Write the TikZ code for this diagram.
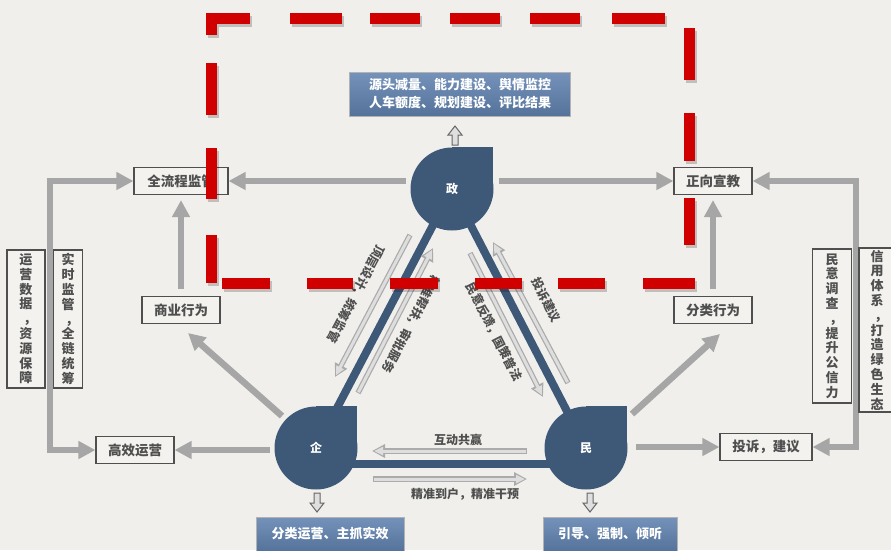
\documentclass[tikz,border=0pt]{standalone}
\usepackage{fontspec}
\setmainfont{Noto Sans CJK SC}
\usetikzlibrary{arrows.meta,calc}
\definecolor{bg}{HTML}{F0EFEB}
\definecolor{navy}{HTML}{3E5878}
\definecolor{blkc}{HTML}{A6A6A6}
\definecolor{labc}{HTML}{4F4F4F}
\definecolor{boxbg}{HTML}{F3F2EF}
\definecolor{thinoc}{HTML}{ABABAB}
\definecolor{thinic}{HTML}{DEDEDE}
\definecolor{redc}{HTML}{D10000}
\definecolor{bluetop}{HTML}{7593BA}
\definecolor{bluebot}{HTML}{55739A}
\pgfdeclarelayer{bgl}
\pgfdeclarelayer{back}
\pgfsetlayers{bgl,back,main}
\newcommand\thinarr[2]{\draw[thinout] (#1) -- (#2); \draw[thinin] (#1) -- (#2);}
\newcommand\hollowdown[2]{\draw[hollow] (#1-3,#2) -- (#1+3,#2) -- (#1+3,#2+10) -- (#1+7,#2+10) -- (#1,#2+19) -- (#1-7,#2+10) -- (#1-3,#2+10) -- cycle;}
\newcommand\hollowup[2]{\draw[hollow] (#1-3,#2) -- (#1+3,#2) -- (#1+3,#2-10) -- (#1+7,#2-10) -- (#1,#2-19) -- (#1-7,#2-10) -- (#1-3,#2-10) -- cycle;}
\newcommand\redframe[1]{%
  \draw[#1] (211,35) -- (211,18) -- (250,18);
  \draw[#1] (290,18) -- (342,18);
  \draw[#1] (370,18) -- (420,18);
  \draw[#1] (450,18) -- (500,18);
  \draw[#1] (530,18) -- (580,18);
  \draw[#1] (612,18) -- (665,18);
  \draw[#1] (689,28) -- (689,80);
  \draw[#1] (689,113) -- (689,161);
  \draw[#1] (689,198) -- (689,245);
  \draw[#1] (643,283) -- (695,283);
  \draw[#1] (558,283) -- (605,283);
  \draw[#1] (475,283) -- (522,283);
  \draw[#1] (390,283) -- (438,283);
  \draw[#1] (307,283) -- (353,283);
  \draw[#1] (222,283) -- (270,283);
  \draw[#1] (211,283) -- (211,235);
  \draw[#1] (211,199) -- (211,148);
  \draw[#1] (211,115) -- (211,63);
}
\begin{document}
\begin{tikzpicture}[x=1pt,y=-1pt,
  lbox/.style={draw=labc, line width=1.1pt, fill=boxbg, text=labc, font=\fontsize{13.5}{15}\selectfont\bfseries, minimum height=27pt, inner sep=0pt},
  vbox/.style={draw=labc, line width=1.1pt, fill=boxbg, text=labc, font=\fontsize{13}{14.8}\selectfont\bfseries, align=center, inner sep=0pt},
  hub/.style={circle, fill=navy, minimum size=83pt, inner sep=0pt, text=white, font=\fontsize{12}{12}\selectfont\bfseries},
  tri/.style={line width=8pt, navy},
  blk/.style={line width=6.5pt, blkc, -{Triangle[length=17pt,width=17pt]}},
  blk2/.style={line width=6.5pt, blkc, {Triangle[length=17pt,width=17pt]}-{Triangle[length=17pt,width=17pt]}},
  thinout/.style={line width=5.5pt, thinoc, -{Triangle[length=13pt,width=13pt]}},
  thinin/.style={line width=3pt, thinic, shorten <=1pt, shorten >=2pt, -{Triangle[length=9pt,width=8pt]}},
  rl/.style={text=labc, font=\fontsize{12}{13}\selectfont\bfseries, inner sep=0pt},
  bluebox/.style={draw=gray!60, line width=1pt, top color=bluetop, bottom color=bluebot, text=white, font=\fontsize{13}{18}\selectfont\bfseries, align=center, inner sep=0pt},
  hollow/.style={draw=gray!80!black, line width=1pt, fill=gray!25},
  redl/.style={line width=11pt, redc, line join=miter},
  reds/.style={line width=11pt, black, opacity=0.2, line join=miter, transform canvas={xshift=2pt,yshift=-3pt}}
]
\begin{pgfonlayer}{bgl}
\fill[bg] (0,0) rectangle (891,550);
\end{pgfonlayer}
\useasboundingbox (0,0) rectangle (891,550);

% hubs
\fill[navy] (452,189) rectangle ++(41,-42);
\node[hub] (zheng) at (452,189) {政};
\fill[navy] (316,448) rectangle ++(41,-42);
\node[hub] (qi) at (316,448) {企};
\fill[navy] (586,448) rectangle ++(41,-42);
\node[hub] (min) at (586,448) {民};

% triangle
\begin{pgfonlayer}{back}
\draw[tri] (zheng.center) -- (qi.center);
\draw[tri] (zheng.center) -- (min.center);
\coordinate (qb) at (340,464);
\coordinate (mb) at (560,464);
\draw[tri] (qb) -- (mb);
\end{pgfonlayer}

% label boxes
\node[lbox, minimum width=94pt] (qlc) at (181,181) {全流程监管};
\node[lbox, minimum width=78pt] (syxw) at (181,310) {商业行为};
\node[lbox, minimum width=78pt] (gxyy) at (135,450) {高效运营};
\node[lbox, minimum width=78pt] (zxxj) at (713,181) {正向宣教};
\node[lbox, minimum width=78pt] (flxw) at (713,310) {分类行为};
\node[lbox, minimum width=92pt] (tsjy) at (766,447) {投诉，建议};

% block arrows
\coordinate (g1s) at (406,181);
\draw[blk] (g1s) -- (qlc.east);
\coordinate (g2s) at (499,181);
\draw[blk] (g2s) -- (zxxj.west);
\draw[blk, shorten <=7pt, shorten >=5pt] (syxw.north) -- (qlc.south);
\draw[blk, shorten <=7pt, shorten >=5pt] (flxw.north) -- (zxxj.south);
\coordinate (g5s) at (282,416);
\coordinate (g5e) at (188,333);
\draw[blk] (g5s) -- (g5e);
\coordinate (g6s) at (632,414);
\coordinate (g6e) at (720,334);
\draw[blk] (g6s) -- (g6e);
\coordinate (g7s) at (270,450);
\draw[blk] (g7s) -- (gxyy.east);
\coordinate (g8s) at (636,447);
\draw[blk] (g8s) -- (tsjy.west);

% side brackets
\coordinate (lt) at (50,181);
\coordinate (lb) at (50,450);
\draw[blk2, line join=miter] (qlc.west) -- (lt) -- (lb) -- (gxyy.west);
\coordinate (rt) at (856,181);
\coordinate (rb) at (856,447);
\draw[blk2, line join=miter] (zxxj.east) -- (rt) -- (rb) -- (tsjy.east);

% vertical boxes
\node[vbox, minimum width=38pt, minimum height=138pt] (v1) at (26,319) {运\\营\\数\\据\\\kern0.6em，\\资\\源\\保\\障};
\node[vbox, minimum width=29pt, minimum height=138pt] (v2) at (68,319) {实\\时\\监\\管\\\kern0.6em，\\全\\链\\统\\筹};
\node[vbox, minimum width=39pt, minimum height=154pt] (v3) at (832,326) {民\\意\\调\\查\\\kern0.6em，\\提\\升\\公\\信\\力};
\node[vbox, minimum width=36pt, minimum height=164pt] (v4) at (877,330) {信\\用\\体\\系\\\kern0.6em，\\打\\造\\绿\\色\\生\\态};

% thin arrows along triangle
\coordinate (a1s) at (410,235); \coordinate (a1e) at (335,377);
\coordinate (a2s) at (358,393); \coordinate (a2e) at (433,248);
\coordinate (a3s) at (470,253); \coordinate (a3e) at (543,397);
\coordinate (a4s) at (568,383); \coordinate (a4e) at (493,242);
\coordinate (a5s) at (527,451); \coordinate (a5e) at (372,451);
\coordinate (a6s) at (373,479); \coordinate (a6e) at (527,479);
\thinarr{a1s}{a1e}
\thinarr{a2s}{a2e}
\thinarr{a3s}{a3e}
\thinarr{a4s}{a4e}
\thinarr{a5s}{a5e}
\thinarr{a6s}{a6e}

\node[rl, rotate=-118] (l1) at (356,294) {顶层设计，统筹监管};
\node[rl, rotate=-118] (l2) at (411,324) {精准帮扶，审批服务};
\node[rl, rotate=-63] (l3) at (494,332) {民意反馈，国策普法};
\node[rl, rotate=-63] (l4) at (546,300) {投诉建议};
\node[rl] (l5) at (458,440) {互动共赢};
\node[rl] (l6) at (465,494) {精准到户，精准干预};

% blue boxes
\node[bluebox, minimum width=221pt, minimum height=44pt] (topb) at (460,94) {源头减量、能力建设、舆情监控\\人车额度、规划建设、评比结果};
\node[bluebox, minimum width=148pt, minimum height=34pt] (botl) at (330,534) {分类运营、主抓实效};
\node[bluebox, minimum width=134pt, minimum height=34pt] (botr) at (610,534) {引导、强制、倾听};

% hollow arrows
\hollowup{455}{145}
\hollowdown{317}{493}
\hollowdown{590}{493}

% red dashed frame
\redframe{reds}
\redframe{redl}
\end{tikzpicture}
\end{document}
